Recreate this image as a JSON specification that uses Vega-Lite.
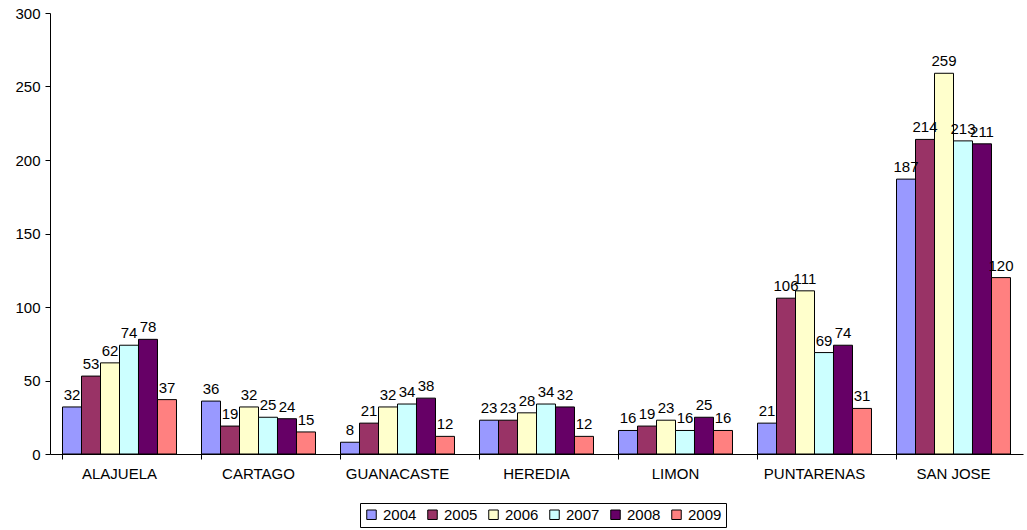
{
  "$schema": "https://vega.github.io/schema/vega-lite/v6.json",
  "width": 973,
  "height": 441,
  "autosize": {"type": "none"},
  "padding": {"left": 50, "top": 13, "right": 4, "bottom": 76},
  "background": "white",
  "config": {
    "view": {"stroke": null},
    "font": "Liberation Sans",
    "axis": {"grid": false, "domainColor": "black", "tickColor": "black", "labelColor": "black", "labelFontSize": 15, "labelFont": "Liberation Sans", "title": null}
  },
  "data": {
    "values": [
      {"provincia": "ALAJUELA", "anio": "2004", "casos": 32},
      {"provincia": "ALAJUELA", "anio": "2005", "casos": 53},
      {"provincia": "ALAJUELA", "anio": "2006", "casos": 62},
      {"provincia": "ALAJUELA", "anio": "2007", "casos": 74},
      {"provincia": "ALAJUELA", "anio": "2008", "casos": 78},
      {"provincia": "ALAJUELA", "anio": "2009", "casos": 37},
      {"provincia": "CARTAGO", "anio": "2004", "casos": 36},
      {"provincia": "CARTAGO", "anio": "2005", "casos": 19},
      {"provincia": "CARTAGO", "anio": "2006", "casos": 32},
      {"provincia": "CARTAGO", "anio": "2007", "casos": 25},
      {"provincia": "CARTAGO", "anio": "2008", "casos": 24},
      {"provincia": "CARTAGO", "anio": "2009", "casos": 15},
      {"provincia": "GUANACASTE", "anio": "2004", "casos": 8},
      {"provincia": "GUANACASTE", "anio": "2005", "casos": 21},
      {"provincia": "GUANACASTE", "anio": "2006", "casos": 32},
      {"provincia": "GUANACASTE", "anio": "2007", "casos": 34},
      {"provincia": "GUANACASTE", "anio": "2008", "casos": 38},
      {"provincia": "GUANACASTE", "anio": "2009", "casos": 12},
      {"provincia": "HEREDIA", "anio": "2004", "casos": 23},
      {"provincia": "HEREDIA", "anio": "2005", "casos": 23},
      {"provincia": "HEREDIA", "anio": "2006", "casos": 28},
      {"provincia": "HEREDIA", "anio": "2007", "casos": 34},
      {"provincia": "HEREDIA", "anio": "2008", "casos": 32},
      {"provincia": "HEREDIA", "anio": "2009", "casos": 12},
      {"provincia": "LIMON", "anio": "2004", "casos": 16},
      {"provincia": "LIMON", "anio": "2005", "casos": 19},
      {"provincia": "LIMON", "anio": "2006", "casos": 23},
      {"provincia": "LIMON", "anio": "2007", "casos": 16},
      {"provincia": "LIMON", "anio": "2008", "casos": 25},
      {"provincia": "LIMON", "anio": "2009", "casos": 16},
      {"provincia": "PUNTARENAS", "anio": "2004", "casos": 21},
      {"provincia": "PUNTARENAS", "anio": "2005", "casos": 106},
      {"provincia": "PUNTARENAS", "anio": "2006", "casos": 111},
      {"provincia": "PUNTARENAS", "anio": "2007", "casos": 69},
      {"provincia": "PUNTARENAS", "anio": "2008", "casos": 74},
      {"provincia": "PUNTARENAS", "anio": "2009", "casos": 31},
      {"provincia": "SAN JOSE", "anio": "2004", "casos": 187},
      {"provincia": "SAN JOSE", "anio": "2005", "casos": 214},
      {"provincia": "SAN JOSE", "anio": "2006", "casos": 259},
      {"provincia": "SAN JOSE", "anio": "2007", "casos": 213},
      {"provincia": "SAN JOSE", "anio": "2008", "casos": 211},
      {"provincia": "SAN JOSE", "anio": "2009", "casos": 120}
    ]
  },
  "encoding": {
    "x": {
      "field": "provincia",
      "type": "nominal",
      "sort": null,
      "scale": {"paddingInner": 0.18, "paddingOuter": 0.09},
      "axis": {"labelAngle": 0, "labelPadding": 7, "tickSize": 5, "bandPosition": 0, "domainColor": "black"}
    },
    "xOffset": {"field": "anio", "type": "nominal"},
    "y": {
      "field": "casos",
      "type": "quantitative",
      "scale": {"domain": [0, 300], "nice": false},
      "axis": {"values": [0, 50, 100, 150, 200, 250, 300], "tickSize": 5, "labelPadding": 5}
    }
  },
  "layer": [
    {
      "mark": {"type": "bar", "stroke": "black", "strokeWidth": 1},
      "encoding": {
        "color": {
          "field": "anio",
          "type": "nominal",
          "scale": {
            "domain": ["2004", "2005", "2006", "2007", "2008", "2009"],
            "range": ["#9999FF", "#993366", "#FFFFCC", "#CCFFFF", "#660066", "#FF8080"]
          },
          "legend": {
            "orient": "none",
            "legendX": 310,
            "legendY": 490,
            "direction": "horizontal",
            "title": null,
            "symbolType": "square",
            "symbolSize": 90,
            "symbolStrokeColor": "black",
            "symbolStrokeWidth": 1,
            "labelFontSize": 15,
            "labelColor": "black",
            "labelFont": "Liberation Sans",
            "columnPadding": 8,
            "symbolOffset": 0,
            "labelOffset": 4,
            "strokeColor": "black",
            "fillColor": "white",
            "padding": 4
          }
        }
      }
    },
    {
      "mark": {"type": "text", "baseline": "bottom", "dy": -4, "fontSize": 15, "font": "Liberation Sans", "color": "black"},
      "encoding": {"text": {"field": "casos", "type": "quantitative"}}
    }
  ]
}
